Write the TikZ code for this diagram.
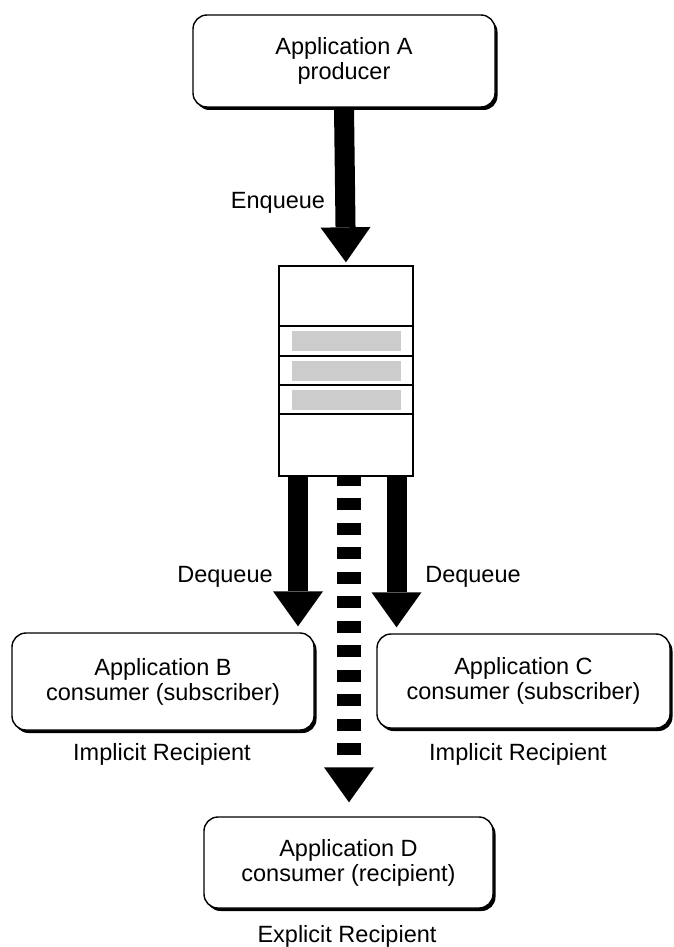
\documentclass[tikz,border=0pt]{standalone}
\usepackage{fontspec}
\setmainfont{Liberation Sans}
\usetikzlibrary{arrows.meta,shadows}

\begin{document}
\begin{tikzpicture}[x=1pt, y=-1pt,
    every node/.style={font=\fontsize{23.5}{25}\selectfont},
    app/.style={draw, line width=1.4pt, rounded corners=14pt, fill=white, align=center, inner sep=0pt,
        drop shadow={shadow xshift=2.5pt, shadow yshift=-3pt, fill=black, opacity=1}},
    lbl/.style={inner sep=0pt},
    bigarrow/.style={line width=20pt, -{Triangle[length=35pt 0 0, width=50pt 0 0, line width=0pt 0 0]}},
    slot/.style={fill=black!20, draw=none}]
    \useasboundingbox (0,0) rectangle (673,947);

    \node[app, minimum width=302pt, minimum height=92pt] (appA) at (344,61) {Application A\\producer};
    \node[app, minimum width=302pt, minimum height=97pt] (appB) at (163,681.5) {Application B\\consumer (subscriber)};
    \node[app, minimum width=293pt, minimum height=94pt] (appC) at (523.5,681) {Application C\\consumer (subscriber)};
    \node[app, minimum width=289pt, minimum height=91pt] (appD) at (348.5,862.5) {Application D\\consumer (recipient)};

    %the queue with its three messages
    \node[draw, fill=white, line width=1.4pt, minimum width=134pt, minimum height=210pt, inner sep=0pt] (queue) at (346,371) {};
    \foreach \y in {326,356,385,414}
        \draw[line width=1.4pt] (queue.west |- 0,\y) -- (queue.east |- 0,\y);
    \foreach \y in {326,356,385}
        \fill[slot] (292,\y+5) rectangle (401,\y+25);

    \coordinate (deqB) at ([xshift=-48pt]queue.south);
    \coordinate (deqC) at ([xshift=50.5pt]queue.south);
    \coordinate (deqD) at ([xshift=3pt]queue.south);

    \draw[bigarrow, shorten >=3pt] (appA.south) -- (queue.north);
    \draw[bigarrow, shorten >=6pt] (deqB) -- (deqB |- appB.north);
    \draw[bigarrow, shorten >=6pt] (deqC) -- (deqC |- appC.north);
    \draw[bigarrow, line width=24pt, dash pattern=on 12pt off 12.5pt, dash phase=3pt, shorten >=14pt] (deqD) -- (deqD |- appD.north);

    \node[lbl] (enq) at (278,203) {Enqueue};
    \node[lbl] (deqlblB) at (225,577) {Dequeue};
    \node[lbl] (deqlblC) at (473,577) {Dequeue};
    \node[lbl] (recB) at (162,754) {Implicit Recipient};
    \node[lbl] (recC) at (518,754) {Implicit Recipient};
    \node[lbl] (recD) at (347,936) {Explicit Recipient};
\end{tikzpicture}
\end{document}
